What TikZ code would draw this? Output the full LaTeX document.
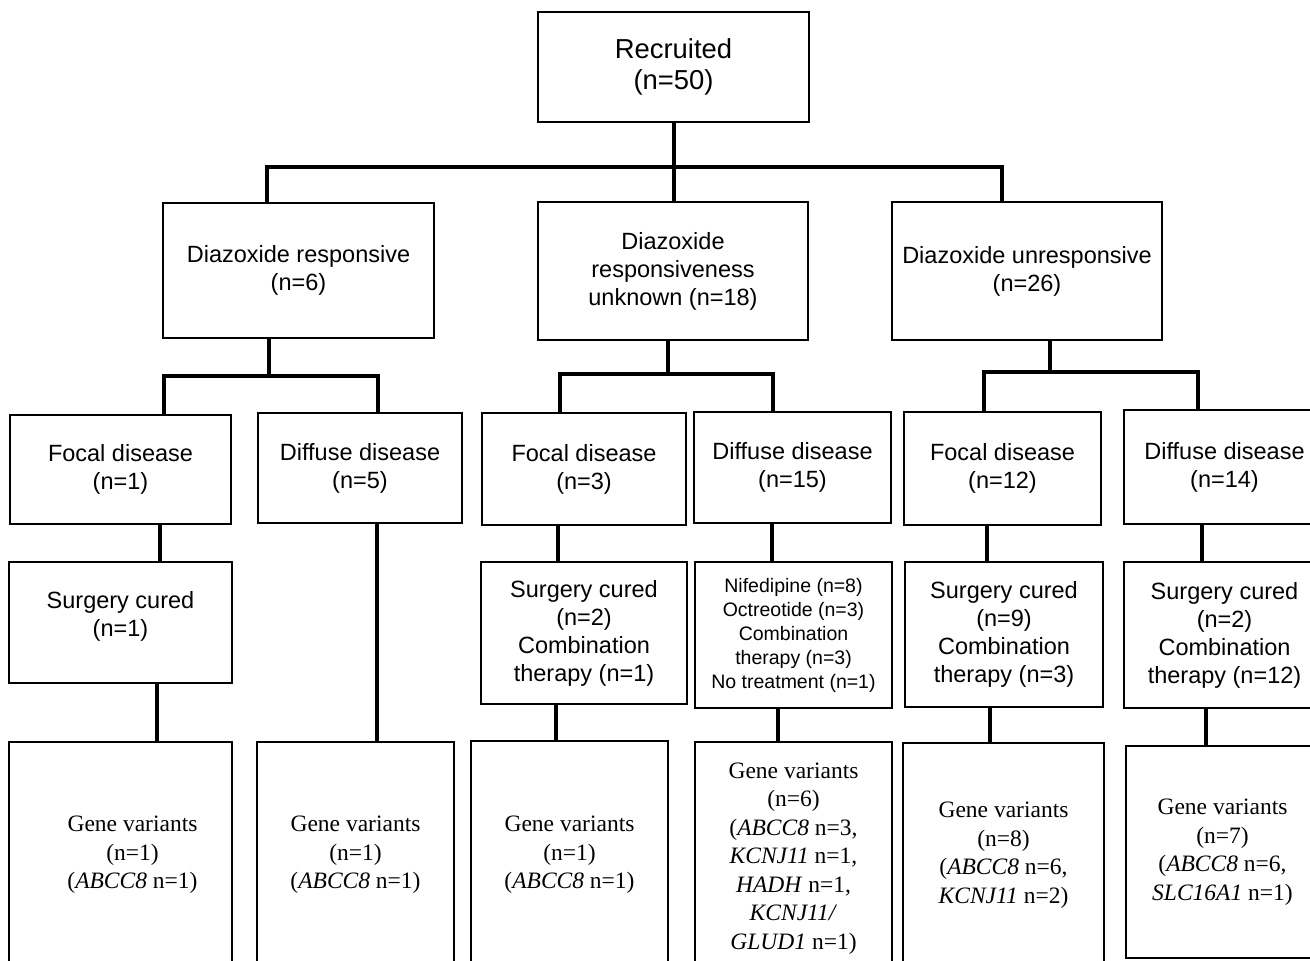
\documentclass[tikz,border=0pt]{standalone}
\usepackage{fontspec}
\setmainfont{Liberation Serif}
\setsansfont{Liberation Sans}

\begin{document}
\begin{tikzpicture}[
    x=0.5pt, y=-0.5pt,
    box/.style={rectangle, draw, line width=1pt, inner sep=0pt, align=center, font=\sffamily\fontsize{11.75}{14}\selectfont},
    top/.style={box, font=\sffamily\fontsize{13.7}{15.5}\selectfont},
    small/.style={box, font=\sffamily\fontsize{9.75}{12}\selectfont},
    gene/.style={box, font=\rmfamily\fontsize{11.75}{14.25}\selectfont},
    link/.style={line width=2pt}
]
\clip (0,0) rectangle (1310,960);

% Top level
\node[top, minimum width=135.5pt, minimum height=55pt] (rec) at (673.5,67) {Recruited\\(n=50)};

% Diazoxide response
\node[box, minimum width=135.5pt, minimum height=67.5pt] (dr) at (298.5,270.5) {Diazoxide responsive\\(n=6)};
\node[box, minimum width=135pt, minimum height=69pt] (unk) at (673,271) {Diazoxide\\responsiveness\\unknown (n=18)};
\node[box, minimum width=135pt, minimum height=69pt] (unr) at (1027,271) {Diazoxide unresponsive\\(n=26)};

\draw[link] (rec.south) -- (rec.south |- unk.north);
\draw[link] ([xshift=-15.75pt]dr.north) -- ++(0,-35) -| ([xshift=-12.5pt]unr.north);

% Focal / diffuse
\node[box, minimum width=110.5pt, minimum height=54.5pt] (f1) at (120.5,469.5) {Focal disease\\(n=1)};
\node[box, minimum width=102pt, minimum height=55pt] (d5) at (360,468) {Diffuse disease\\(n=5)};
\node[box, minimum width=102pt, minimum height=56pt] (f3) at (584,469) {Focal disease\\(n=3)};
\node[box, minimum width=98.5pt, minimum height=55.5pt] (d15) at (792.5,467.5) {Diffuse disease\\(n=15)};
\node[box, minimum width=98.5pt, minimum height=56.5pt] (f12) at (1002.5,468.5) {Focal disease\\(n=12)};
\node[box, minimum width=100.5pt, minimum height=57pt] (d14) at (1224.5,467) {Diffuse disease\\(n=14)};

\draw[link] ([xshift=-14.75pt]dr.south) -- ++(0,39);
\draw[link] ([xshift=21.75pt]f1.north) -- ++(0,-38) -| ([xshift=9pt]d5.north);
\draw[link] ([xshift=-2.5pt]unk.south) -- ++(0,35);
\draw[link] ([xshift=-12pt]f3.north) -- ++(0,-38) -| ([xshift=-9.75pt]d15.north);
\draw[link] ([xshift=11.5pt]unr.south) -- ++(0,33);
\draw[link] ([xshift=-9.25pt]f12.north) -- ++(0,-39) -| ([xshift=-13.25pt]d14.north);

% Treatment
\node[box, minimum width=111.5pt, minimum height=60.5pt] (s1) at (120.5,622.5) {Surgery cured\\(n=1)\\[-5pt]};
\node[box, minimum width=103pt, minimum height=71pt] (s2) at (584,633) {Surgery cured\\(n=2)\\Combination\\therapy (n=1)};
\node[small, minimum width=98.5pt, minimum height=73pt] (nif) at (793.5,635) {Nifedipine (n=8)\\Octreotide (n=3)\\Combination\\therapy (n=3)\\No treatment (n=1)};
\node[box, minimum width=99pt, minimum height=72.5pt] (s9) at (1004,634.5) {Surgery cured\\(n=9)\\Combination\\therapy (n=3)};
\node[box, minimum width=100.5pt, minimum height=73pt] (s2r) at (1224.5,635) {Surgery cured\\(n=2)\\Combination\\therapy (n=12)};

\draw[link] ([xshift=19.75pt]f1.south) -- ([xshift=19.75pt]f1.south |- s1.north);
\draw[link] ([xshift=-13pt]f3.south) -- ([xshift=-13pt]f3.south |- s2.north);
\draw[link] ([xshift=-10.25pt]d15.south) -- ([xshift=-10.25pt]d15.south |- nif.north);
\draw[link] ([xshift=-7.75pt]f12.south) -- ([xshift=-7.75pt]f12.south |- s9.north);
\draw[link] ([xshift=-11.25pt]d14.south) -- ([xshift=-11.25pt]d14.south |- s2r.north);

% Gene variants
\node[gene, minimum width=111.5pt, minimum height=113pt] (g1) at (120.5,855) {\hspace*{12pt}Gene variants\\\hspace*{12pt}(n=1)\\\hspace*{12pt}(\textit{ABCC8} n=1)};
\node[gene, minimum width=98.5pt, minimum height=113pt] (g2) at (355.5,855) {Gene variants\\(n=1)\\(\textit{ABCC8} n=1)};
\node[gene, minimum width=98.5pt, minimum height=114pt] (g3) at (569.5,855) {Gene variants\\(n=1)\\(\textit{ABCC8} n=1)};
\node[gene, minimum width=98.5pt, minimum height=116.5pt] (g4) at (793.5,858.5) {Gene variants\\(n=6)\\(\textit{ABCC8} n=3,\\\textit{KCNJ11} n=1,\\\textit{HADH} n=1,\\\textit{KCNJ11/}\\\textit{GLUD1} n=1)};
\node[gene, minimum width=100.5pt, minimum height=112pt] (g5) at (1003.5,855) {Gene variants\\(n=8)\\(\textit{ABCC8} n=6,\\\textit{KCNJ11} n=2)};
\node[gene, minimum width=96.5pt, minimum height=106pt] (g6) at (1222.5,852) {Gene variants\\(n=7)\\(\textit{ABCC8} n=6,\\\textit{SLC16A1} n=1)};

\draw[link] ([xshift=18.25pt]s1.south) -- ([xshift=18.25pt]s1.south |- g1.north);
\draw[link] ([xshift=8.5pt]d5.south) -- ([xshift=8.5pt]d5.south |- g2.north);
\draw[link] ([xshift=-14pt]s2.south) -- ([xshift=-14pt]s2.south |- g3.north);
\draw[link] ([xshift=-7.75pt]nif.south) -- ([xshift=-7.75pt]nif.south |- g4.north);
\draw[link] ([xshift=-7pt]s9.south) -- ([xshift=-7pt]s9.south |- g5.north);
\draw[link] ([xshift=-9.25pt]s2r.south) -- ([xshift=-9.25pt]s2r.south |- g6.north);

\end{tikzpicture}
\end{document}
